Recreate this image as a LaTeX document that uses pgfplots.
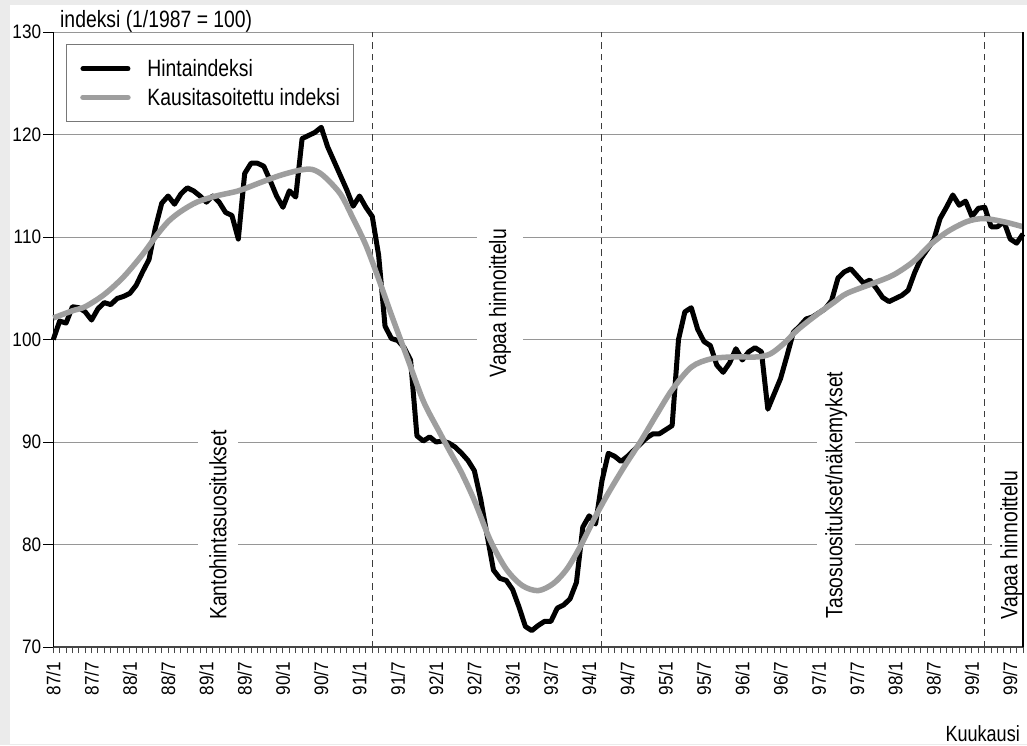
\documentclass[border=0pt]{standalone}
\usepackage{fontspec}
\setmainfont{Liberation Sans}[FakeStretch=0.82]
\newfontfamily\tickfam{Liberation Sans}[FakeStretch=0.88]
\usepackage{pgfplots}
\pgfplotsset{compat=1.18}
\definecolor{bggray}{RGB}{235,235,235}
\definecolor{gridgray}{RGB}{150,150,150}
\definecolor{sagray}{RGB}{158,158,158}
\definecolor{dashgray}{RGB}{60,60,60}
\definecolor{axgray}{RGB}{70,70,70}
\definecolor{leggray}{RGB}{120,120,120}
\newcommand{\tickfont}{\tickfam\fontsize{19.5}{22}\selectfont}
\newcommand{\labfont}{\fontsize{23.6}{27}\selectfont}
\newcommand{\kkfont}{\fontsize{22}{25}\selectfont}
\begin{document}
\begin{tikzpicture}
\fill[bggray] (-53.3pt,-98pt) rectangle (973.7pt,647pt);
\fill[white] (-43.3pt,-97pt) rectangle (973.7pt,642pt);
\begin{axis}[
 at={(0pt,0pt)}, anchor=south west, scale only axis,
 width=969.7pt, height=615pt,
 xmin=0, xmax=152, ymin=70, ymax=130,
 axis x line*=bottom, axis y line*=left,
 x axis line style={draw=axgray, line width=1.5pt, -},
 y axis line style={draw=black, line width=1.5pt, -},
 xtick={0,6,...,150},
 xticklabels={87/1,87/7,88/1,88/7,89/1,89/7,90/1,90/7,91/1,91/7,92/1,92/7,93/1,93/7,94/1,94/7,95/1,95/7,96/1,96/7,97/1,97/7,98/1,98/7,99/1,99/7},
 minor xtick={0,1,...,152},
 ytick={70,80,...,130},
 tick align=outside,
 major tick length=6pt, minor tick length=6pt,
 xtick style={draw=axgray, line width=1pt},
 ytick style={draw=black, line width=1pt, /pgfplots/major tick length=10pt},
 xticklabel style={yshift=-8.5pt, rotate=90, anchor=east, font=\tickfont, inner sep=0pt},
 yticklabel style={xshift=-6pt, anchor=east, font=\tickfont, inner sep=0pt},
 /pgf/number format/assume math mode=true,
 ymajorgrids, major grid style={draw=gridgray, line width=1pt},
 clip=false,
 legend style={
   at={(rel axis cs:0.0128,0.9805)}, anchor=north west,
   draw=leggray, line width=1pt, fill=white,
   inner xsep=14pt, inner ysep=15pt,
   row sep=10pt, column sep=16.7pt,
   font=\labfont,
   nodes={inner sep=0pt},
 },
 legend cell align=left,
 legend image code/.code={\draw[#1, line cap=round] (0pt,0pt) -- (45pt,0pt);},
]
\draw[dashgray, line width=1pt, dash pattern=on 6.5pt off 5pt] (axis cs:50,70) -- (axis cs:50,130);
\draw[dashgray, line width=1pt, dash pattern=on 6.5pt off 5pt] (axis cs:86,70) -- (axis cs:86,130);
\draw[dashgray, line width=1pt, dash pattern=on 6.5pt off 5pt] (axis cs:146,70) -- (axis cs:146,130);
\node[rotate=90, fill=white, inner xsep=2pt, inner ysep=11pt, font=\labfont] at (axis cs:25.82,81.9) {Kantohintasuositukset};
\node[rotate=90, fill=white, inner xsep=2pt, inner ysep=12pt, font=\labfont] at (axis cs:70.04,103.56) {Vapaa hinnoittelu};
\node[rotate=90, fill=white, inner xsep=2pt, inner ysep=8pt, font=\labfont] at (axis cs:122.72,84.83) {Tasosuositukset/näkemykset};
\node[rotate=90, fill=white, inner xsep=2pt, inner ysep=8pt, font=\labfont] at (axis cs:150.16,79.95) {Vapaa hinnoittelu};
\addplot[black, line width=5pt, line join=round] coordinates {
(0,100.0) (1,101.8) (2,101.6) (3,103.2) (4,103.1) (5,102.7) (6,101.9) (7,103.0) (8,103.6) (9,103.4)
(10,104.0) (11,104.2) (12,104.5) (13,105.3) (14,106.6) (15,107.8) (16,110.9) (17,113.3) (18,114.0) (19,113.2)
(20,114.2) (21,114.8) (22,114.5) (23,114.0) (24,113.4) (25,114.0) (26,113.4) (27,112.4) (28,112.1) (29,109.8)
(30,116.2) (31,117.2) (32,117.2) (33,116.9) (34,115.5) (35,114.0) (36,112.9) (37,114.5) (38,113.9) (39,119.6)
(40,119.9) (41,120.2) (42,120.7) (43,118.8) (44,117.4) (45,116.0) (46,114.6) (47,113.0) (48,114.0) (49,112.9)
(50,112.0) (51,108.2) (52,101.3) (53,100.1) (54,99.9) (55,99.2) (56,98.0) (57,90.6) (58,90.1) (59,90.5)
(60,90.0) (61,90.1) (62,89.9) (63,89.5) (64,88.9) (65,88.2) (66,87.2) (67,84.4) (68,80.9) (69,77.5)
(70,76.7) (71,76.5) (72,75.6) (73,73.9) (74,72.0) (75,71.6) (76,72.1) (77,72.5) (78,72.5) (79,73.8)
(80,74.1) (81,74.7) (82,76.3) (83,81.7) (84,82.8) (85,82.0) (86,86.2) (87,88.9) (88,88.6) (89,88.1)
(90,88.6) (91,89.2) (92,89.8) (93,90.4) (94,90.8) (95,90.8) (96,91.2) (97,91.6) (98,100.0) (99,102.7)
(100,103.1) (101,101.0) (102,99.8) (103,99.4) (104,97.5) (105,96.8) (106,97.7) (107,99.1) (108,98.0) (109,98.8)
(110,99.2) (111,98.8) (112,93.2) (113,94.7) (114,96.2) (115,98.4) (116,100.7) (117,101.3) (118,102.0) (119,102.2)
(120,102.6) (121,103.0) (122,103.8) (123,106.0) (124,106.6) (125,106.9) (126,106.2) (127,105.5) (128,105.8) (129,105.0)
(130,104.1) (131,103.7) (132,104.0) (133,104.3) (134,104.8) (135,106.5) (136,107.9) (137,108.8) (138,109.7) (139,111.8)
(140,112.9) (141,114.1) (142,113.1) (143,113.5) (144,112.0) (145,112.8) (146,112.9) (147,111.0) (148,111.0) (149,111.5)
(150,109.8) (151,109.4) (152,110.3)
};
\addlegendentry{Hintaindeksi}
\addplot[sagray, line width=5.5pt, smooth, line join=round] coordinates {
(0,102.1) (3,102.8) (5,103.2) (8,104.4) (11,106.1) (14,108.3) (16,110.0) (18,111.5) (20,112.5)
(22.5,113.4) (25.5,114.0) (29,114.5) (32,115.2) (35.5,116.0) (38.5,116.5) (40.5,116.6) (42.3,116.0)
(45,114.2) (47,111.8) (49,109.2) (51,105.9) (53,102.4) (55.5,98.2) (58,94.0) (60.5,91.0) (62.5,88.7)
(64,87.0) (66,84.3) (68.5,80.4) (71,77.6) (73.5,76.0) (76,75.5) (78.4,76.2) (80.5,77.6) (82.6,79.8)
(84.7,82.4) (86.8,84.8) (89.4,87.5) (92,90.0) (94.5,92.6) (97,95.1) (100,97.3) (103,98.1) (106.5,98.3)
(110.3,98.3) (112.4,98.6) (114.5,99.6) (116.6,100.9) (119.2,102.2) (122.3,103.6) (124.4,104.5)
(128.6,105.5) (131.7,106.3) (134.8,107.6) (137.4,109.2) (140.1,110.5) (143.2,111.5) (145.8,111.8)
(148.9,111.5) (152,111.0)
};
\addlegendentry{Kausitasoitettu indeksi}
\draw[black, line width=1.5pt] (axis cs:152,70) -- (axis cs:152,130);
\end{axis}
\node[anchor=base west, inner sep=0pt, font=\labfont] at (6.7pt,619pt) {indeksi (1/1987 = 100)};
\node[anchor=base east, inner sep=0pt, font=\kkfont] at (966.7pt,-94.7pt) {Kuukausi};
\pgfresetboundingbox
\useasboundingbox (-53.3pt,-98pt) rectangle (973.7pt,647pt);
\end{tikzpicture}
\end{document}
